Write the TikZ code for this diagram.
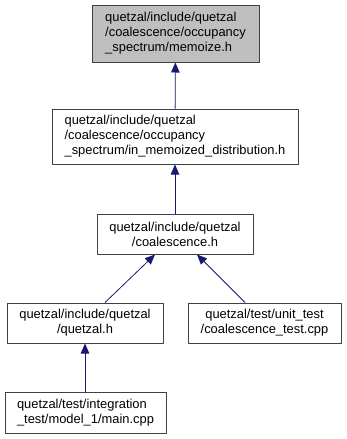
\documentclass[tikz,border=0pt]{standalone}
\usepackage{fontspec}
\setmainfont{Liberation Sans}
\usepackage{xcolor}
\usepackage{tikz}
\usetikzlibrary{arrows.meta}

\definecolor{edgeblue}{RGB}{25,25,112}
\definecolor{boxline}{RGB}{64,64,64}
\definecolor{boxgray}{RGB}{191,191,191}

\tikzset{
  file/.style={draw=boxline, line width=1pt, fill=white, inner sep=0pt,
    font=\fontsize{12.9}{15}\selectfont, align=center},
  current/.style={file, fill=boxgray},
  incl/.style={draw=edgeblue, line width=0.8pt,
    -{Triangle[length=10pt, width=8.5pt, fill=edgeblue]}}
}

\begin{document}
\begin{tikzpicture}[x=1pt, y=-1pt, line join=round]
    \useasboundingbox (0,0) rectangle (347,439);

    % Header at the top and everything that pulls it in
    \node[current, minimum width=167pt, minimum height=57pt, align=left] (memoize) at (175.5, 33.5)
        {quetzal/include/quetzal\\/coalescence/occupancy\\\_spectrum/memoize.h};
    \node[file, minimum width=246pt, minimum height=55pt, align=left] (inmemo) at (175, 136.5)
        {quetzal/include/quetzal\\/coalescence/occupancy\\\_spectrum/in\_memoized\_distribution.h};
    \node[file, minimum width=156pt, minimum height=40pt] (coal) at (175, 234)
        {quetzal/include/quetzal\\/coalescence.h};
    \node[file, minimum width=156pt, minimum height=40pt] (quetzalh) at (85, 323)
        {quetzal/include/quetzal\\/quetzal.h};
    \node[file, minimum width=153pt, minimum height=40pt] (cotest) at (264.5, 323)
        {quetzal/test/unit\_test\\/coalescence\_test.cpp};
    \node[file, minimum width=161pt, minimum height=41pt, align=left] (mainc) at (85.5, 412.5)
        {quetzal/test/integration\\\_test/model\_1/main.cpp};

    % Include edges, tip on the included file
    \draw[incl] (inmemo) -- (memoize);
    \draw[incl] (coal) -- (inmemo);
    \draw[incl] ([xshift=20pt]quetzalh.north) -- ([xshift=-20pt]coal.south);
    \draw[incl] ([xshift=-19.5pt]cotest.north) -- ([xshift=22pt]coal.south);
    \draw[incl] (mainc.north -| quetzalh.south) -- (quetzalh.south);
\end{tikzpicture}
\end{document}
